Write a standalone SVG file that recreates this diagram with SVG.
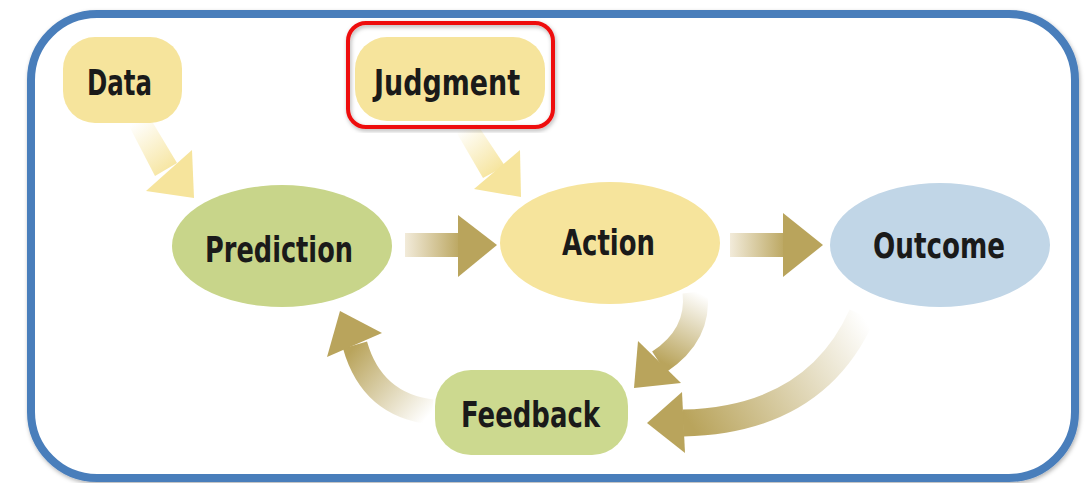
<svg xmlns="http://www.w3.org/2000/svg" width="1085" height="483" viewBox="0 0 1085 483">
<defs>
<style>
.lbl{font-family:"Liberation Sans Narrow","DejaVu Sans Condensed","Liberation Sans",sans-serif;font-weight:bold;font-size:36px;fill:#1a1a1a}
.gold{fill:#B9A45C}
.yel{fill:#F6E49C}
</style>
<filter id="sh" x="-5%" y="-5%" width="110%" height="110%">
<feDropShadow dx="1" dy="2" stdDeviation="2" flood-color="#000" flood-opacity="0.3"/>
</filter>
<linearGradient id="gH1" gradientUnits="userSpaceOnUse" x1="405" y1="0" x2="462" y2="0">
<stop offset="0" stop-color="#F2EBDA"/><stop offset="1" stop-color="#B9A45C"/>
</linearGradient>
<linearGradient id="gH2" gradientUnits="userSpaceOnUse" x1="730" y1="0" x2="787" y2="0">
<stop offset="0" stop-color="#F2EBDA"/><stop offset="1" stop-color="#B9A45C"/>
</linearGradient>
<linearGradient id="gY1" gradientUnits="userSpaceOnUse" x1="135" y1="122" x2="172" y2="172">
<stop offset="0" stop-color="#FFFFFF"/><stop offset="1" stop-color="#F6E49C"/>
</linearGradient>
<linearGradient id="gY2" gradientUnits="userSpaceOnUse" x1="462" y1="128" x2="498" y2="172">
<stop offset="0" stop-color="#FFFFFF"/><stop offset="1" stop-color="#F6E49C"/>
</linearGradient>
<linearGradient id="gC1" gradientUnits="userSpaceOnUse" x1="697" y1="292" x2="662" y2="362">
<stop offset="0" stop-color="#FFFFFF"/><stop offset="1" stop-color="#B9A45C"/>
</linearGradient>
<linearGradient id="gC2" gradientUnits="userSpaceOnUse" x1="862" y1="315" x2="690" y2="423">
<stop offset="0" stop-color="#FFFFFF"/><stop offset="1" stop-color="#B9A45C"/>
</linearGradient>
<linearGradient id="gC3" gradientUnits="userSpaceOnUse" x1="432" y1="412" x2="356" y2="345">
<stop offset="0" stop-color="#FFFFFF"/><stop offset="1" stop-color="#B9A45C"/>
</linearGradient>
</defs>
<rect width="1085" height="483" fill="#FFFFFF"/>
<rect id="frame" x="31" y="14" width="1044" height="464" rx="66" ry="66" fill="#FFFFFF" stroke="#4A7EBB" stroke-width="8" filter="url(#sh)"/>
<g id="connectors">
<g id="c-data-prediction">
<polygon points="128,124 150,118 177,163 155,176" fill="url(#gY1)"/>
<polygon class="yel" points="146,191 192,150 194,198"/>
</g>
<g id="c-judgment-action">
<polygon points="455,130 477,124 505,166 483,178" fill="url(#gY2)"/>
<polygon class="yel" points="474,189 520,150 521,197"/>
</g>
<g id="c-prediction-action">
<rect x="405" y="233" width="56" height="24" fill="url(#gH1)"/>
<polygon class="gold" points="458,215 497,245 458,277"/>
</g>
<g id="c-action-outcome">
<rect x="730" y="233" width="56" height="24" fill="url(#gH2)"/>
<polygon class="gold" points="783,213 823,245 783,277"/>
</g>
<g id="c-action-feedback">
<path d="M 695 292 Q 700 335 659 362" fill="none" stroke="url(#gC1)" stroke-width="25"/>
<polygon class="gold" points="638,341 681,383 634,388"/>
</g>
<g id="c-outcome-feedback">
<path d="M 862 315 Q 815 420 683 423" fill="none" stroke="url(#gC2)" stroke-width="27"/>
<polygon class="gold" points="682,392 685,453 647,423"/>
</g>
<g id="c-feedback-prediction">
<path d="M 432 412 Q 372 405 355 345" fill="none" stroke="url(#gC3)" stroke-width="25"/>
<polygon class="gold" points="327,357 382,333 340,311"/>
</g>
</g>
<g id="node-data">
<rect x="63" y="37" width="119" height="86" rx="32" ry="32" fill="#F6E49C"/>
<text class="lbl" x="87" y="95" textLength="65" lengthAdjust="spacingAndGlyphs">Data</text>
</g>
<g id="node-judgment">
<rect x="355" y="37" width="190" height="84" rx="32" ry="32" fill="#F6E49C"/>
<rect x="348" y="23" width="205" height="104" rx="18" ry="18" fill="none" stroke="#EE1111" stroke-width="4" filter="url(#sh)"/>
<text class="lbl" x="374" y="95" textLength="146" lengthAdjust="spacingAndGlyphs">Judgment</text>
</g>
<g id="node-prediction">
<ellipse cx="282" cy="246" rx="110" ry="61" fill="#C8D58A"/>
<text class="lbl" x="205" y="262" textLength="148" lengthAdjust="spacingAndGlyphs">Prediction</text>
</g>
<g id="node-action">
<ellipse cx="610" cy="243" rx="110" ry="61" fill="#F6E49C"/>
<text class="lbl" x="562" y="255" textLength="93" lengthAdjust="spacingAndGlyphs">Action</text>
</g>
<g id="node-outcome">
<ellipse cx="940" cy="245" rx="110" ry="62" fill="#C1D6E7"/>
<text class="lbl" x="873" y="258" textLength="132" lengthAdjust="spacingAndGlyphs">Outcome</text>
</g>
<g id="node-feedback">
<rect x="435" y="370" width="193" height="85" rx="36" ry="36" fill="#CCD98F"/>
<text class="lbl" x="461" y="427" textLength="139" lengthAdjust="spacingAndGlyphs">Feedback</text>
</g>
</svg>
